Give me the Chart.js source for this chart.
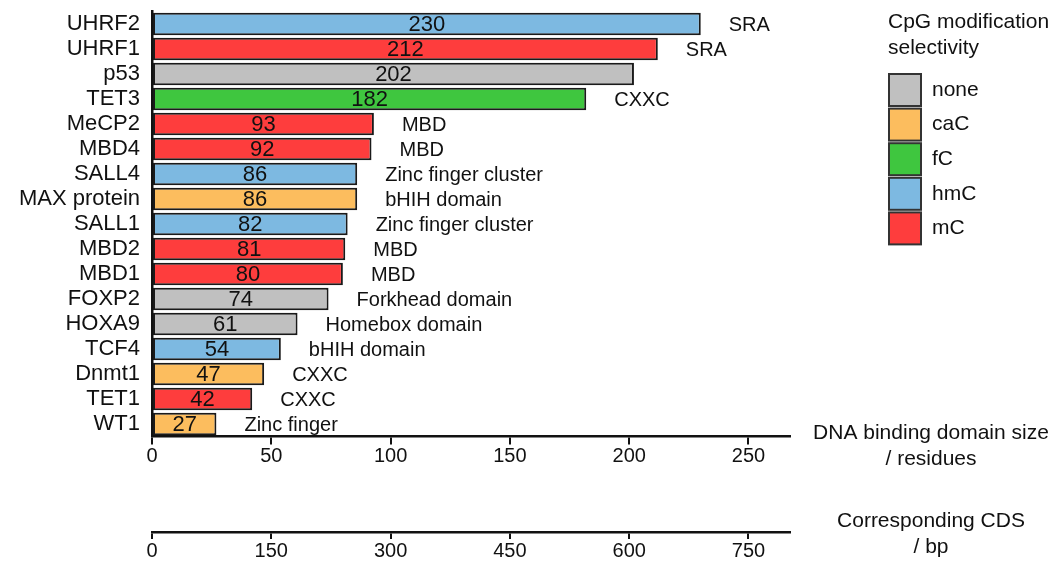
<!DOCTYPE html>
<html>
<head>
<meta charset="utf-8">
<script src="https://cdn.jsdelivr.net/npm/chart.js@4.4.1/dist/chart.umd.min.js"></script>
<style>
  html, body { margin: 0; padding: 0; background: #fff; }
  #wrap { width: 1056px; height: 561px; position: relative; }
</style>
</head>
<body>
<div id="wrap"><canvas id="c" width="1056" height="561"></canvas></div>
<script>
// ---- data ----
const proteins = ["UHRF2","UHRF1","p53","TET3","MeCP2","MBD4","SALL4","MAX protein","SALL1","MBD2","MBD1","FOXP2","HOXA9","TCF4","Dnmt1","TET1","WT1"];
const domainSize = [230,212,202,182,93,92,86,86,82,81,80,74,61,54,47,42,27];
const domainNames = ["SRA","SRA","","CXXC","MBD","MBD","Zinc finger cluster","bHIH domain","Zinc finger cluster","MBD","MBD","Forkhead domain","Homebox domain","bHIH domain","CXXC","CXXC","Zinc finger"];
const selectivity = ["hmC","mC","none","fC","mC","mC","hmC","caC","hmC","mC","mC","none","none","hmC","caC","mC","caC"];
const legendOrder = ["none","caC","fC","hmC","mC"];
const residueTicks = [0,50,100,150,200,250];
const cdsTicks = [0,150,300,450,600,750];

// ---- styles ----
const colorMap = { none: "#c0c0c0", caC: "#fcbd5e", fC: "#3fc63f", hmC: "#7db9e1", mC: "#fe3d3d" };
const FONT = "'Liberation Sans', Arial, Helvetica, sans-serif";
const TXT = "#111";
const AXIS_MAX = 267.4;

const overlay = {
  id: "overlay",
  afterDatasetsDraw(chart) {
    const ctx = chart.ctx;
    const meta = chart.getDatasetMeta(0);
    ctx.save();
    ctx.fillStyle = TXT;
    ctx.textBaseline = "middle";
    meta.data.forEach((bar, i) => {
      const mid = (bar.x + bar.base) / 2;
      ctx.font = "22px " + FONT;
      ctx.textAlign = "center";
      ctx.fillText(String(domainSize[i]), mid, bar.y + 1);
      if (domainNames[i]) {
        ctx.font = "20px " + FONT;
        ctx.textAlign = "left";
        ctx.fillText(domainNames[i], bar.x + 28, bar.y + 1);
      }
    });
    ctx.restore();
  },
  afterDraw(chart) {
    const ctx = chart.ctx;
    ctx.save();
    ctx.font = "21px " + FONT;
    ctx.fillStyle = TXT;
    ctx.textBaseline = "middle";
    // axis titles
    ctx.textAlign = "center";
    ctx.fillText("DNA binding domain size", 931, 433);
    ctx.fillText("/ residues", 931, 459);
    ctx.fillText("Corresponding CDS", 931, 521);
    ctx.fillText("/ bp", 931, 547);
    // legend
    ctx.textAlign = "left";
    ctx.fillText("CpG modification", 888, 22);
    ctx.fillText("selectivity", 888, 48);
    legendOrder.forEach((k, i) => {
      const y = 74 + i * 34.6;
      ctx.fillStyle = colorMap[k];
      ctx.fillRect(889, y, 32, 32);
      ctx.strokeStyle = "#333";
      ctx.lineWidth = 2;
      ctx.strokeRect(889, y, 32, 32);
      ctx.fillStyle = TXT;
      ctx.fillText(k, 932, y + 16);
    });
    ctx.restore();
  }
};

new Chart(document.getElementById("c"), {
  type: "bar",
  data: {
    labels: proteins,
    datasets: [{
      data: domainSize,
      backgroundColor: selectivity.map(s => colorMap[s]),
      borderColor: "#1a1a1a",
      borderWidth: 2,
      borderSkipped: false,
      barPercentage: 0.9,
      categoryPercentage: 1.0
    }]
  },
  options: {
    indexAxis: "y",
    responsive: false,
    animation: false,
    layout: { padding: { left: 0, right: 266, top: 11.5, bottom: 0 } },
    plugins: { legend: { display: false }, tooltip: { enabled: false } },
    scales: {
      y: {
        afterFit(s) { s.width = 152; s.paddingTop = 0; s.paddingBottom = 0; },
        grid: { display: false, drawTicks: false },
        border: { display: true, color: "#111", width: 2.5 },
        ticks: { color: TXT, font: { family: FONT, size: 22 }, padding: 12, autoSkip: false }
      },
      x: {
        type: "linear",
        position: "bottom",
        weight: 0,
        min: 0, max: AXIS_MAX,
        afterFit(s) { s.height = 95.5; },
        afterBuildTicks(s) { s.ticks = residueTicks.map(v => ({ value: v })); },
        grid: { display: true, drawOnChartArea: false, drawTicks: true, tickLength: 8, color: "#111", lineWidth: 2 },
        border: { display: true, color: "#111", width: 2.5 },
        ticks: { color: TXT, font: { family: FONT, size: 20 }, padding: 0, maxRotation: 0 }
      },
      x2: {
        type: "linear",
        axis: "x",
        position: "bottom",
        weight: 1,
        min: 0, max: AXIS_MAX * 3,
        afterFit(s) { s.height = 29; },
        afterBuildTicks(s) { s.ticks = cdsTicks.map(v => ({ value: v })); },
        grid: { display: true, drawOnChartArea: false, drawTicks: true, tickLength: 7, color: "#111", lineWidth: 2 },
        border: { display: true, color: "#111", width: 2.5 },
        ticks: { color: TXT, font: { family: FONT, size: 20 }, padding: 0, maxRotation: 0 }
      }
    }
  },
  plugins: [overlay]
});
</script>
</body>
</html>
